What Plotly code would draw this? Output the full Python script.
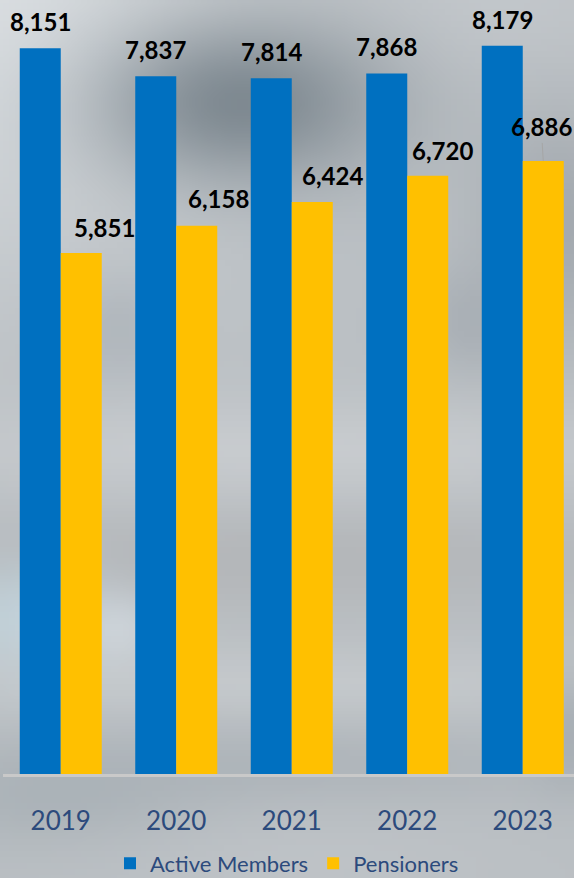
import base64, zlib, struct, math
import plotly.graph_objects as go

# ---------------- data ----------------
years = ["2019", "2020", "2021", "2022", "2023"]
active_members = [8151, 7837, 7814, 7868, 8179]
pensioners = [5851, 6158, 6424, 6720, 6886]

# ---------------- label styling (pixel offsets) ----------------
am_label_dx = [0, 0, 0, 0, 0]
am_label_rise = [27, 27, 27, 27, 26]
pen_label_dx = [23, 22, 20, 15, -2]
pen_label_rise = [26, 27, 27, 25, 34]
pen_leader = [False, False, False, False, True]

W, H = 574, 878
ML, MT = 3, 0
PLOT_BOTTOM = 774
BAND = 115.5
BARW_UNITS = 41.0 / BAND

BLUE = "#0070C0"
YELLOW = "#FFC000"
TXT_BLUE = "#2C4A7C"

# ---------------- decorative cloudy background ----------------
def hex2rgb(h):
    h = h.lstrip("#")
    return [int(h[i:i + 2], 16) for i in (0, 2, 4)]

blobs = [
    (0, 0, 260, 260, "#dde1e4", 0.9),
    (480, 0, 160, 90, "#c8ccd0", 0.6),
    (240, 100, 150, 85, "#7b868e", 0.95),
    (560, 220, 80, 110, "#959ca3", 0.6),
    (470, 320, 60, 60, "#a0a7ae", 0.6),
    (115, 330, 60, 60, "#a8afb6", 0.6),
    (287, 450, 420, 55, "#cdd0d3", 0.7),
    (287, 560, 420, 50, "#b0b1b3", 0.6),
    (20, 620, 70, 60, "#c3d5de", 0.8),
    (115, 630, 50, 40, "#d3dae0", 0.7),
    (287, 685, 420, 40, "#cfd2d4", 0.5),
    (287, 770, 320, 45, "#a7aeb4", 0.6),
    (570, 730, 40, 60, "#9ea6ad", 0.6),
    (60, 800, 160, 50, "#a3acb2", 0.6),
    (300, 860, 200, 60, "#c2c6ca", 0.5),
]
STEP = 6
IW, IH = W // STEP + 1, H // STEP + 1
base = hex2rgb("#babfc3")
rows = []
for j in range(IH):
    row = []
    py = j * STEP
    for i in range(IW):
        px = i * STEP
        c = list(base)
        for (cx, cy, rx, ry, col, s) in blobs:
            w = s * math.exp(-(((px - cx) / rx) ** 2 + ((py - cy) / ry) ** 2))
            cc = hex2rgb(col)
            c = [c[k] * (1 - w) + cc[k] * w for k in range(3)]
        row.extend(int(max(0, min(255, round(v)))) for v in c)
    rows.append(row)

def make_png(w, h, rows):
    raw = b"".join(b"\x00" + bytes(r) for r in rows)
    def chunk(t, d):
        return struct.pack(">I", len(d)) + t + d + struct.pack(">I", zlib.crc32(t + d) & 0xFFFFFFFF)
    return (b"\x89PNG\r\n\x1a\n"
            + chunk(b"IHDR", struct.pack(">IIBBBBB", w, h, 8, 2, 0, 0, 0))
            + chunk(b"IDAT", zlib.compress(raw, 9))
            + chunk(b"IEND", b""))

bg_uri = "data:image/png;base64," + base64.b64encode(make_png(IW, IH, rows)).decode()

# ---------------- figure ----------------
fig = go.Figure()
fig.add_trace(go.Bar(x=years, y=active_members, name="Active Members",
                     marker=dict(color=BLUE, line=dict(width=0))))
fig.add_trace(go.Bar(x=years, y=pensioners, name="Pensioners",
                     marker=dict(color=YELLOW, line=dict(width=0))))

label_font = dict(family="Lato", size=24, color="#000000", weight="bold")
annotations = []
for i, v in enumerate(active_members):
    annotations.append(dict(x=i - BARW_UNITS / 2, y=v, xref="x", yref="y",
                            text=f"{v:,}", showarrow=True, arrowcolor="rgba(0,0,0,0)",
                            ax=am_label_dx[i], ay=-am_label_rise[i], font=label_font))
for i, v in enumerate(pensioners):
    annotations.append(dict(x=i + BARW_UNITS / 2, y=v, xref="x", yref="y",
                            text=f"{v:,}", showarrow=True,
                            arrowcolor="#a6a6a6" if pen_leader[i] else "rgba(0,0,0,0)",
                            arrowwidth=1, arrowhead=0, standoff=0,
                            ax=pen_label_dx[i], ay=-pen_label_rise[i], font=label_font))

plot_w = W - ML
ymax = PLOT_BOTTOM * active_members[0] / (PLOT_BOTTOM - 48.3)

fig.update_layout(
    width=W, height=H,
    margin=dict(l=ML, r=0, t=MT, b=H - PLOT_BOTTOM, pad=0),
    paper_bgcolor="#babfc3", plot_bgcolor="rgba(0,0,0,0)",
    barmode="group", bargap=0.29, bargroupgap=0,
    showlegend=True,
    legend=dict(orientation="h", xref="container", yref="container",
                x=0.5, xanchor="center", y=0.0165, yanchor="middle",
                font=dict(family="Lato", size=22, color=TXT_BLUE),
                bgcolor="rgba(0,0,0,0)", traceorder="normal"),
    xaxis=dict(type="category", range=[-0.5, -0.5 + plot_w / BAND],
               showline=True, linecolor="#c9c9c9", linewidth=3,
               showgrid=False, zeroline=False, ticks="",
               tickfont=dict(family="Lato", size=26, color=TXT_BLUE),
               ticklabelstandoff=22),
    yaxis=dict(range=[0, ymax], visible=False, showgrid=False, zeroline=False),
    annotations=annotations,
    images=[dict(source=bg_uri, xref="paper", yref="paper",
                 x=-ML / plot_w, y=1, sizex=W / plot_w, sizey=H / PLOT_BOTTOM,
                 xanchor="left", yanchor="top", sizing="stretch", layer="below")],
)

fig.write_html("out.html")
